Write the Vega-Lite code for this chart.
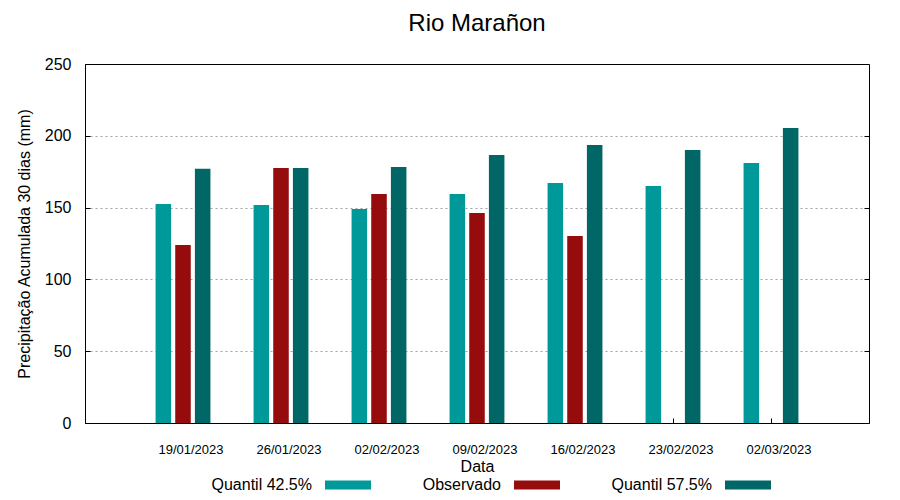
{
  "$schema": "https://vega.github.io/schema/vega-lite/v6.json",
  "width": 784,
  "height": 359,
  "autosize": {"type": "none"},
  "padding": {"left": 85, "top": 64, "right": 31, "bottom": 77},
  "title": {"text": "Rio Marañon", "fontSize": 24, "font": "Liberation Sans", "fontWeight": "normal", "offset": 20, "color": "black", "anchor": "middle"},
  "data": {
    "values": [
      {"date": "19/01/2023", "serie": "Quantil 42.5%", "value": 152.5},
      {"date": "19/01/2023", "serie": "Observado", "value": 124},
      {"date": "19/01/2023", "serie": "Quantil 57.5%", "value": 177},
      {"date": "26/01/2023", "serie": "Quantil 42.5%", "value": 151.8},
      {"date": "26/01/2023", "serie": "Observado", "value": 177.6},
      {"date": "26/01/2023", "serie": "Quantil 57.5%", "value": 177.6},
      {"date": "02/02/2023", "serie": "Quantil 42.5%", "value": 149},
      {"date": "02/02/2023", "serie": "Observado", "value": 159.5},
      {"date": "02/02/2023", "serie": "Quantil 57.5%", "value": 178.3},
      {"date": "09/02/2023", "serie": "Quantil 42.5%", "value": 159.5},
      {"date": "09/02/2023", "serie": "Observado", "value": 146.2},
      {"date": "09/02/2023", "serie": "Quantil 57.5%", "value": 186.6},
      {"date": "16/02/2023", "serie": "Quantil 42.5%", "value": 167.1},
      {"date": "16/02/2023", "serie": "Observado", "value": 130.2},
      {"date": "16/02/2023", "serie": "Quantil 57.5%", "value": 193.6},
      {"date": "23/02/2023", "serie": "Quantil 42.5%", "value": 165},
      {"date": "23/02/2023", "serie": "Quantil 57.5%", "value": 190.1},
      {"date": "02/03/2023", "serie": "Quantil 42.5%", "value": 181.1},
      {"date": "02/03/2023", "serie": "Quantil 57.5%", "value": 205.4}
    ]
  },
  "layer": [
    {
      "mark": {"type": "bar"},
      "encoding": {
        "x": {
          "field": "date", "type": "ordinal", "sort": null,
          "scale": {"paddingInner": 0.44, "paddingOuter": 0.72},
          "axis": {
            "title": "Data", "titleFontSize": 16, "titleFontWeight": "normal", "titleColor": "black", "titlePadding": 2,
            "labelAngle": 0, "labelFontSize": 13, "labelColor": "black", "labelPadding": 25, "labelOffset": 8,
            "tickSize": -5, "tickColor": "black", "domainColor": "black", "grid": false
          }
        },
        "xOffset": {
          "field": "serie", "sort": ["Quantil 42.5%", "Observado", "Quantil 57.5%"],
          "scale": {"paddingInner": 0.21, "paddingOuter": 0}
        },
        "y": {
          "field": "value", "type": "quantitative",
          "scale": {"domain": [0, 250], "nice": false},
          "axis": {
            "title": "Precipitação Acumulada 30 dias (mm)", "titleFontSize": 16, "titleFontWeight": "normal", "titleColor": "black", "titlePadding": 12,
            "values": [0, 50, 100, 150, 200, 250],
            "labelFontSize": 16, "labelColor": "black", "labelPadding": 19,
            "tickSize": -5, "tickColor": "black", "domainColor": "black",
            "grid": true, "gridColor": "#a0a0a0", "gridDash": [2, 3],
            "gridOpacity": {"condition": {"test": "datum.value == 0 || datum.value == 250", "value": 0}, "value": 1}
          }
        },
        "color": {
          "field": "serie", "type": "nominal",
          "scale": {"domain": ["Quantil 42.5%", "Observado", "Quantil 57.5%"], "range": ["#009999", "#960c0c", "#006666"]},
          "legend": {
            "title": null, "orient": "none", "legendX": 240, "legendY": 398,
            "direction": "horizontal", "columns": 3, "columnPadding": 51,
            "symbolType": "M-1,-0.2L1,-0.2L1,0.2L-1,0.2Z", "symbolSize": 2116, "symbolStrokeWidth": 0, "symbolOpacity": 1,
            "labelAlign": "right", "labelOffset": -59, "labelFontSize": 16, "labelColor": "black", "labelLimit": 300
          }
        }
      }
    },
    {
      "mark": {"type": "tick", "opacity": 0},
      "encoding": {
        "y": {
          "field": "value", "type": "quantitative",
          "scale": {"domain": [0, 250], "nice": false},
          "axis": {
            "orient": "right", "title": null, "labels": false, "grid": false, "domain": false,
            "values": [50, 100, 150, 200],
            "tickSize": -5, "tickColor": "black"
          }
        }
      }
    }
  ],
  "resolve": {"axis": {"y": "independent"}},
  "config": {
    "font": "Liberation Sans",
    "view": {"stroke": "black", "strokeWidth": 1},
    "axis": {"domainWidth": 1, "tickWidth": 1}
  }
}
